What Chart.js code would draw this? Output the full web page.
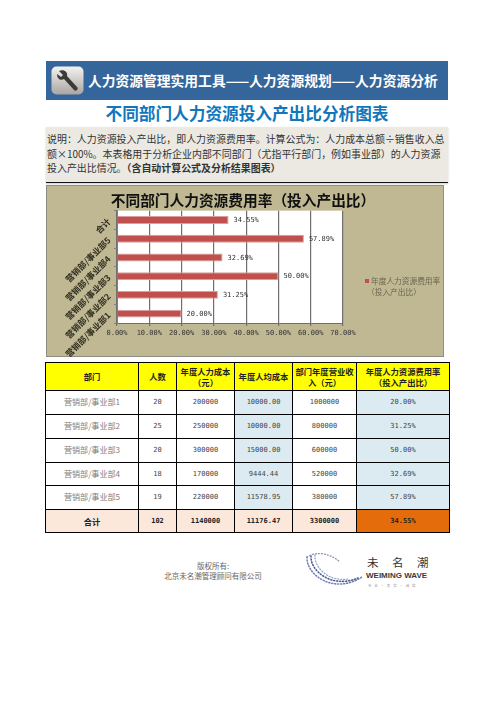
<!DOCTYPE html>
<html>
<head>
<meta charset="utf-8">
<title>不同部门人力资源投入产出比分析图表</title>
<script src="https://cdn.jsdelivr.net/npm/chart.js@4"></script>
<style>
  html, body { margin: 0; padding: 0; background: #fff; }
  body { position: relative; width: 496px; height: 702px; overflow: hidden; font-family: "Noto Sans CJK SC", sans-serif; }
  .abs { position: absolute; white-space: nowrap; }
  #banner { left: 46px; top: 61px; width: 402px; height: 39px; background: #34659b; }
  #bannerText { left: 88px; top: 71px; font-size: 13.78px; line-height: 18px; font-weight: 700; color: #fff; }
  #heading { left: 46px; width: 402px; top: 101px; text-align: center; font-size: 16.65px; line-height: 24px; font-weight: 700; color: #1176bc; }
  #desc { left: 46px; top: 127px; width: 401px; height: 55px; padding-left: 1px; background: #ebe9e1; border-bottom: 1px solid #111; box-shadow: 0 1px 2px #ccc; font-size: 9.95px; line-height: 14.6px; color: #333; }
  #desc div { height: 14.6px; position: relative; top: 5px; }
  #chartBox { left: 46px; top: 185px; width: 398px; height: 172px; background: #bfb892; box-shadow: inset 0 0 0 1px #8e8e84; }
  #legend { left: 365px; top: 276px; color: #6b6652; font-size: 7.7px; line-height: 10.5px; }
  #legend i { display: inline-block; width: 4px; height: 4px; background: #c0504d; margin-right: 2px; vertical-align: 1px; }
  #legend div + div { padding-left: 2px; }
  table { position: absolute; left: 45px; top: 362px; width: 404px; height: 171px; border-collapse: collapse; table-layout: fixed; }
  td, th { border: 1px solid #000; padding: 0; text-align: center; vertical-align: middle; font-family: "DejaVu Sans Mono", "Noto Sans CJK SC", monospace; font-size: 7px; font-weight: 400; color: #444; line-height: 10.5px; }
  th { background: #ffff00; color: #222; font-family: "Noto Sans CJK SC", sans-serif; font-size: 8.3px; font-weight: 700; }
  td.name { font-family: "Noto Sans CJK SC", sans-serif; font-size: 8.1px; color: #808080; }
  td.blue { background: #dcebf1; }
  tr.total td { background: #fce8da; color: #222; font-weight: 700; }
  tr.total td.name { font-size: 8.3px; color: #222; font-weight: 700; }
  tr.total td.hot { background: #e46c0a; }
  #copyright { left: 130px; width: 166px; top: 561px; text-align: center; font-size: 7.5px; line-height: 10px; color: #666; }
  #wm1 { left: 367px; top: 554px; font-size: 11.5px; line-height: 16px; letter-spacing: 13.5px; color: #333; }
  #wm2 { left: 366px; top: 571px; font-family: "Liberation Sans", sans-serif; font-size: 8px; line-height: 10px; font-weight: 700; color: #3b3b3b; }
  #wm3 { left: 368px; top: 583px; font-size: 3.5px; line-height: 5px; letter-spacing: 1px; color: #999; }
</style>
</head>
<body>
<div class="abs" id="banner"></div>
<svg class="abs" style="left:51px;top:66px" width="33" height="29" viewBox="0 0 33 29">
  <defs><linearGradient id="iconBg" x1="0" y1="0" x2="0" y2="1"><stop offset="0" stop-color="#f4f3f1"/><stop offset="1" stop-color="#a9a5a0"/></linearGradient></defs>
  <rect x="0.5" y="0.5" width="32" height="28" rx="5" fill="url(#iconBg)"/>
  <path d="M8 5 L12 9 L10 11 L6 8 C6 13 10 15 13 13 L23 24 C25 26 28 23 26 21 L16 10 C17 6 13 3 8 5 Z" fill="#3c3a38"/>
</svg>
<div class="abs" id="bannerText">人力资源管理实用工具——人力资源规划——人力资源分析</div>
<div class="abs" id="heading">不同部门人力资源投入产出比分析图表</div>
<div class="abs" id="desc">
  <div>说明：人力资源投入产出比，即人力资源费用率。计算公式为：人力成本总额÷销售收入总</div>
  <div>额×100%。本表格用于分析企业内部不同部门（尤指平行部门，例如事业部）的人力资源</div>
  <div>投入产出比情况。<b>（含自动计算公式及分析结果图表）</b></div>
</div>
<div class="abs" id="chartBox"><canvas id="costChart" width="398" height="172"></canvas></div>
<div class="abs" id="legend"><div><i></i>年度人力资源费用率</div><div>（投入产出比）</div></div>
<table id="dataTable"></table>
<div class="abs" id="copyright">版权所有:<br>北京未名潮管理顾问有限公司</div>
<svg class="abs" style="left:304px;top:551px" width="62" height="42" viewBox="0 0 62 42">
  <g fill="none" stroke-linecap="round">
    <path d="M3 6 C2 24 30 44 58 26" stroke="#7381b3" stroke-width="1.6" stroke-dasharray="1 2"/>
    <path d="M7 5 C6 20 28 38 54 27" stroke="#4d5c96" stroke-width="1.6" stroke-dasharray="1 2"/>
    <path d="M11 4 C10 16 24 31 44 28" stroke="#9aa3c8" stroke-width="1.3" stroke-dasharray="1 2"/>
    <path d="M3 6 C12 0 26 2 36 11" stroke="#8b95bd" stroke-width="1.3" stroke-dasharray="1 2"/>
  </g>
</svg>
<div class="abs" id="wm1">未名潮</div>
<div class="abs" id="wm2">WEIMING WAVE</div>
<div class="abs" id="wm3">专 业 · 务 实 · 诚 信</div>

<script>
const departments = ['营销部/事业部1', '营销部/事业部2', '营销部/事业部3', '营销部/事业部4', '营销部/事业部5'];
const totalLabel = '合计';
const headcount = ['20', '25', '20', '18', '19', '102'];
const laborCost = ['200000', '250000', '300000', '170000', '220000', '1140000'];
const avgCost = ['10000.00', '10000.00', '15000.00', '9444.44', '11578.95', '11176.47'];
const revenue = ['1000000', '800000', '600000', '520000', '380000', '3300000'];
const costRate = [20.00, 31.25, 50.00, 32.69, 57.89, 34.55];
const headers = ['部门', '人数', '年度人力成本<br>（元）', '年度人均成本', '部门年度营业收<br>入（元）', '年度人力资源费用率<br>（投入产出比）'];
const colWidths = [93, 38, 58, 58, 64, 93];
const rowHeights = [28, 24, 24, 24, 23, 24, 23];

function renderTable() {
  const table = document.getElementById('dataTable');
  const names = departments.concat(totalLabel);
  let html = '<colgroup>' + colWidths.map(w => `<col style="width:${w}px">`).join('') + '</colgroup>';
  html += `<tr style="height:${rowHeights[0]}px">` + headers.map(h => `<th>${h}</th>`).join('') + '</tr>';
  names.forEach((name, i) => {
    const isTotal = i === names.length - 1;
    html += `<tr class="${isTotal ? 'total' : ''}" style="height:${rowHeights[i + 1]}px">`;
    html += `<td class="name">${name}</td><td>${headcount[i]}</td><td>${laborCost[i]}</td>`;
    html += `<td class="blue">${avgCost[i]}</td><td>${revenue[i]}</td>`;
    html += `<td class="${isTotal ? 'hot' : 'blue'}">${costRate[i].toFixed(2)}%</td></tr>`;
  });
  table.innerHTML = html;
}

const plotBackground = {
  id: 'plotBackground',
  afterLayout(chart) {
    // title is centred over the whole box, not just the plot
    chart.titleBlock.left = 0;
    chart.titleBlock.right = 394;
  },
  beforeDatasetsDraw(chart) {
    const { ctx, chartArea: a } = chart;
    ctx.save();
    ctx.globalCompositeOperation = 'destination-over';
    ctx.fillStyle = '#fff';
    ctx.fillRect(a.left, a.top, a.right - a.left, a.bottom - a.top);
    ctx.restore();
  }
};

const barValueLabels = {
  id: 'barValueLabels',
  afterDatasetsDraw(chart) {
    const { ctx } = chart;
    const bars = chart.getDatasetMeta(0).data;
    ctx.save();
    ctx.font = '7px "DejaVu Sans Mono", monospace';
    ctx.fillStyle = '#333';
    ctx.textBaseline = 'middle';
    bars.forEach((bar, i) => {
      ctx.fillText(costRate[i].toFixed(2) + '%', bar.x + 5, bar.y + 0.5);
    });
    ctx.restore();
  }
};

renderTable();

new Chart(document.getElementById('costChart'), {
  type: 'bar',
  data: {
    labels: departments.concat(totalLabel),
    datasets: [{
      label: '年度人力资源费用率（投入产出比）',
      data: costRate,
      backgroundColor: '#c0504d',
      borderColor: '#dc9c9a',
      borderWidth: 1,
      barPercentage: 0.42,
      categoryPercentage: 1
    }]
  },
  options: {
    indexAxis: 'y',
    responsive: false,
    animation: false,
    layout: { padding: { left: 0, right: 101, top: 0, bottom: 0 } },
    plugins: {
      legend: { display: false },
      tooltip: { enabled: false },
      title: {
        display: true,
        text: '不同部门人力资源费用率（投入产出比）',
        color: '#111',
        font: { family: '"Noto Sans CJK SC"', size: 14.7, weight: 'bold' },
        padding: { top: 7, bottom: 1 }
      }
    },
    scales: {
      x: {
        min: 0,
        max: 70,
        afterFit: s => { s.height = 34; },
        ticks: {
          stepSize: 10,
          padding: 3,
          maxRotation: 0,
          color: '#333',
          font: { family: '"DejaVu Sans Mono"', size: 7 },
          callback: value => value.toFixed(2) + '%'
        },
        grid: { color: '#6f6f6f', lineWidth: 1.2, tickLength: 3 },
        border: { color: '#6f6f6f' }
      },
      y: {
        reverse: true,
        afterFit: s => { s.width = 71; },
        ticks: {
          minRotation: 45,
          maxRotation: 45,
          padding: 5,
          autoSkip: false,
          color: '#2e2c20',
          font: { family: '"Noto Sans CJK SC"', size: 8.5, weight: 'bold' }
        },
        grid: { drawOnChartArea: false, color: '#7f7f7f', tickLength: 3 },
        border: { color: '#7f7f7f' }
      }
    }
  },
  plugins: [plotBackground, barValueLabels]
});
</script>
</body>
</html>
